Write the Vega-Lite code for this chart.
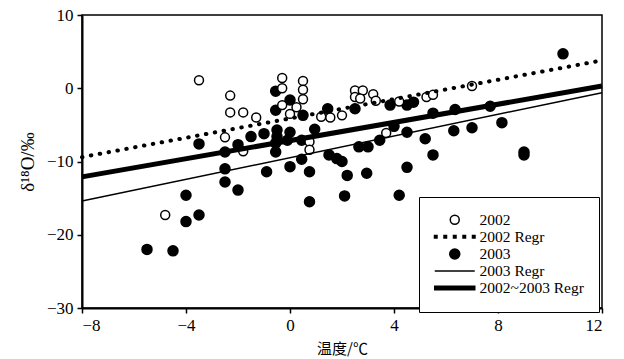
{
  "$schema": "https://vega.github.io/schema/vega-lite/v6.json",
  "autosize": "none",
  "width": 520,
  "height": 293,
  "padding": {"left": 82, "top": 15, "right": 22, "bottom": 51},
  "background": "white",
  "config": {
    "view": {"stroke": "black", "strokeWidth": 1.5},
    "axis": {
      "grid": false,
      "domainColor": "black",
      "domainWidth": 2,
      "tickColor": "black",
      "tickWidth": 1.5,
      "tickSize": 5,
      "labelFont": "Liberation Serif",
      "labelFontSize": 17,
      "labelColor": "black",
      "titleColor": "black",
      "titleFontWeight": "normal"
    },
    "legend": {
      "labelFont": "Liberation Serif",
      "labelFontSize": 15.5,
      "labelColor": "black"
    }
  },
  "datasets": {
    "pts": [
      {"series": "2003", "temp": -3.5, "d18O": -7.6},
      {"series": "2003", "temp": -2.5, "d18O": -8.7},
      {"series": "2003", "temp": -2.5, "d18O": -11.0},
      {"series": "2003", "temp": -2.5, "d18O": -12.8},
      {"series": "2003", "temp": -2.0, "d18O": -13.9},
      {"series": "2003", "temp": -2.0, "d18O": -7.7},
      {"series": "2003", "temp": -1.5, "d18O": -6.6},
      {"series": "2003", "temp": -1.0, "d18O": -6.2},
      {"series": "2003", "temp": -0.9, "d18O": -11.4},
      {"series": "2003", "temp": -4.0, "d18O": -14.6},
      {"series": "2003", "temp": -3.5, "d18O": -17.3},
      {"series": "2003", "temp": -4.0, "d18O": -18.2},
      {"series": "2003", "temp": -5.5, "d18O": -22.0},
      {"series": "2003", "temp": -4.5, "d18O": -22.2},
      {"series": "2003", "temp": -0.55, "d18O": -0.4},
      {"series": "2003", "temp": 0.0, "d18O": -1.6},
      {"series": "2003", "temp": -0.55, "d18O": -3.0},
      {"series": "2003", "temp": 0.5, "d18O": -3.7},
      {"series": "2003", "temp": -0.5, "d18O": -5.7},
      {"series": "2003", "temp": -0.5, "d18O": -6.6},
      {"series": "2003", "temp": -0.55, "d18O": -7.5},
      {"series": "2003", "temp": -0.55, "d18O": -8.7},
      {"series": "2003", "temp": 0.0, "d18O": -6.0},
      {"series": "2003", "temp": -0.1, "d18O": -7.1},
      {"series": "2003", "temp": 0.45, "d18O": -7.1},
      {"series": "2003", "temp": 0.45, "d18O": -9.7},
      {"series": "2003", "temp": 0.75, "d18O": -11.4},
      {"series": "2003", "temp": 0.0, "d18O": -10.7},
      {"series": "2003", "temp": 0.95, "d18O": -5.6},
      {"series": "2003", "temp": 0.75, "d18O": -15.5},
      {"series": "2003", "temp": 1.45, "d18O": -2.8},
      {"series": "2003", "temp": 2.5, "d18O": -2.8},
      {"series": "2003", "temp": 3.85, "d18O": -2.3},
      {"series": "2003", "temp": 4.5, "d18O": -2.3},
      {"series": "2003", "temp": 4.75, "d18O": -1.9},
      {"series": "2003", "temp": 1.5, "d18O": -9.1},
      {"series": "2003", "temp": 1.8, "d18O": -9.6},
      {"series": "2003", "temp": 2.0, "d18O": -10.0},
      {"series": "2003", "temp": 2.2, "d18O": -11.9},
      {"series": "2003", "temp": 2.95, "d18O": -11.6},
      {"series": "2003", "temp": 2.65, "d18O": -8.0},
      {"series": "2003", "temp": 3.0, "d18O": -8.0},
      {"series": "2003", "temp": 3.45, "d18O": -7.1},
      {"series": "2003", "temp": 4.0, "d18O": -5.2},
      {"series": "2003", "temp": 4.5, "d18O": -6.0},
      {"series": "2003", "temp": 5.2, "d18O": -6.9},
      {"series": "2003", "temp": 5.5, "d18O": -3.4},
      {"series": "2003", "temp": 6.35, "d18O": -2.9},
      {"series": "2003", "temp": 7.7, "d18O": -2.45},
      {"series": "2003", "temp": 10.5, "d18O": 4.7},
      {"series": "2003", "temp": 6.3, "d18O": -5.8},
      {"series": "2003", "temp": 7.0, "d18O": -5.4},
      {"series": "2003", "temp": 8.15, "d18O": -4.7},
      {"series": "2003", "temp": 5.5, "d18O": -9.1},
      {"series": "2003", "temp": 9.0, "d18O": -8.7},
      {"series": "2003", "temp": 9.0, "d18O": -9.1},
      {"series": "2003", "temp": 4.5, "d18O": -10.8},
      {"series": "2003", "temp": 2.1, "d18O": -14.7},
      {"series": "2003", "temp": 4.2, "d18O": -14.6},
      {"series": "2002", "temp": -3.5, "d18O": 1.1},
      {"series": "2002", "temp": -2.3, "d18O": -1.0},
      {"series": "2002", "temp": -2.3, "d18O": -3.3},
      {"series": "2002", "temp": -1.8, "d18O": -3.3},
      {"series": "2002", "temp": -1.3, "d18O": -4.0},
      {"series": "2002", "temp": -2.5, "d18O": -6.7},
      {"series": "2002", "temp": -1.8, "d18O": -8.6},
      {"series": "2002", "temp": -4.8, "d18O": -17.3},
      {"series": "2002", "temp": -0.3, "d18O": 1.4},
      {"series": "2002", "temp": -0.3, "d18O": 0.0},
      {"series": "2002", "temp": -0.3, "d18O": -2.3},
      {"series": "2002", "temp": 0.25, "d18O": -2.6},
      {"series": "2002", "temp": 0.0, "d18O": -3.5},
      {"series": "2002", "temp": 0.5, "d18O": 1.0},
      {"series": "2002", "temp": 0.5, "d18O": -0.2},
      {"series": "2002", "temp": 0.5, "d18O": -1.5},
      {"series": "2002", "temp": 0.75, "d18O": -7.3},
      {"series": "2002", "temp": 0.75, "d18O": -8.4},
      {"series": "2002", "temp": 1.2, "d18O": -3.9},
      {"series": "2002", "temp": 1.55, "d18O": -4.0},
      {"series": "2002", "temp": 2.0, "d18O": -3.7},
      {"series": "2002", "temp": 2.5, "d18O": -0.3},
      {"series": "2002", "temp": 2.8, "d18O": -0.3},
      {"series": "2002", "temp": 2.5, "d18O": -1.2},
      {"series": "2002", "temp": 2.7, "d18O": -1.4},
      {"series": "2002", "temp": 3.2, "d18O": -0.8},
      {"series": "2002", "temp": 3.3, "d18O": -1.7},
      {"series": "2002", "temp": 4.2, "d18O": -1.8},
      {"series": "2002", "temp": 5.25, "d18O": -1.2},
      {"series": "2002", "temp": 5.5, "d18O": -0.9},
      {"series": "2002", "temp": 7.0, "d18O": 0.3},
      {"series": "2002", "temp": 3.7, "d18O": -6.1}
    ],
    "regr": [
      {"series": "2002 Regr", "temp": -8, "d18O": -9.4},
      {"series": "2002 Regr", "temp": 12, "d18O": 3.8},
      {"series": "2003 Regr", "temp": -8, "d18O": -15.4},
      {"series": "2003 Regr", "temp": 12, "d18O": -0.6},
      {"series": "2002~2003 Regr", "temp": -8, "d18O": -12.1},
      {"series": "2002~2003 Regr", "temp": 12, "d18O": 0.3}
    ]
  },
  "encoding": {
    "x": {
      "field": "temp",
      "type": "quantitative",
      "scale": {"domain": [-8, 12], "nice": false, "zero": false},
      "axis": {
        "values": [-8, -4, 0, 4, 8, 12],
        "labelFont": "Liberation Serif",
        "labelFontSize": 17,
        "labelPadding": 4,
        "title": "温度/℃",
        "titleFont": "Noto Sans CJK SC",
        "titleFontSize": 15,
        "titlePadding": 8
      }
    },
    "y": {
      "field": "d18O",
      "type": "quantitative",
      "scale": {"domain": [-30, 10], "nice": false, "zero": false},
      "axis": {
        "values": [-30, -20, -10, 0, 10],
        "labelFont": "Liberation Serif",
        "labelFontSize": 17,
        "labelPadding": 4,
        "title": "δ¹⁸O/‰",
        "titleFont": "Liberation Serif",
        "titleFontSize": 19,
        "titlePadding": 9
      }
    }
  },
  "layer": [
    {
      "data": {"name": "pts"},
      "mark": {"type": "point", "filled": true, "stroke": "black", "strokeWidth": 1.5, "opacity": 1},
      "encoding": {
        "shape": {
          "field": "series",
          "type": "nominal",
          "scale": {
            "domain": ["2002", "2002 Regr", "2003", "2003 Regr", "2002~2003 Regr"],
            "range": [
              "circle",
              "M-4.05,-0.25h0.5v0.5h-0.5Z M-2.15,-0.25h0.5v0.5h-0.5Z M-0.25,-0.25h0.5v0.5h-0.5Z M1.65,-0.25h0.5v0.5h-0.5Z M3.55,-0.25h0.5v0.5h-0.5Z",
              "circle",
              "M-4,0H4",
              "M-4,-0.35H4V0.35H-4Z"
            ]
          },
          "legend": {
            "title": null,
            "orient": "none",
            "legendX": 337,
            "legendY": 182,
            "padding": 15,
            "strokeColor": "black",
            "fillColor": "white",
            "symbolOffset": 13,
            "labelOffset": 17,
            "rowPadding": -0.8,
            "encode": {"symbols": {"update": {"stroke": {"value": "black"}, "strokeWidth": {"value": 1.5}}}}
          }
        },
        "fill": {
          "field": "series",
          "type": "nominal",
          "scale": {
            "domain": ["2002", "2002 Regr", "2003", "2003 Regr", "2002~2003 Regr"],
            "range": ["white", "black", "black", "black", "black"]
          },
          "legend": {
            "title": null,
            "orient": "none",
            "legendX": 337,
            "legendY": 182,
            "padding": 15,
            "strokeColor": "black",
            "fillColor": "white",
            "symbolOffset": 13,
            "labelOffset": 17,
            "rowPadding": -0.8,
            "encode": {"symbols": {"update": {"stroke": {"value": "black"}, "strokeWidth": {"value": 1.5}}}}
          }
        },
        "size": {
          "field": "series",
          "type": "nominal",
          "scale": {
            "type": "ordinal",
            "domain": ["2002", "2002 Regr", "2003", "2003 Regr", "2002~2003 Regr"],
            "range": [80, 100, 100, 100, 100]
          },
          "legend": {
            "title": null,
            "orient": "none",
            "legendX": 337,
            "legendY": 182,
            "padding": 15,
            "strokeColor": "black",
            "fillColor": "white",
            "symbolOffset": 13,
            "labelOffset": 17,
            "rowPadding": -0.8,
            "encode": {"symbols": {"update": {"stroke": {"value": "black"}, "strokeWidth": {"value": 1.5}}}}
          }
        }
      }
    },
    {
      "data": {"name": "regr"},
      "transform": [{"filter": "datum.series === '2002 Regr'"}],
      "mark": {"type": "line", "color": "black", "strokeWidth": 4, "strokeDash": [0.5, 8.5], "strokeCap": "round"},
      "encoding": {}
    },
    {
      "data": {"name": "regr"},
      "transform": [{"filter": "datum.series === '2003 Regr'"}],
      "mark": {"type": "line", "color": "black", "strokeWidth": 1.5},
      "encoding": {}
    },
    {
      "data": {"name": "regr"},
      "transform": [{"filter": "datum.series === '2002~2003 Regr'"}],
      "mark": {"type": "line", "color": "black", "strokeWidth": 5},
      "encoding": {}
    }
  ]
}
